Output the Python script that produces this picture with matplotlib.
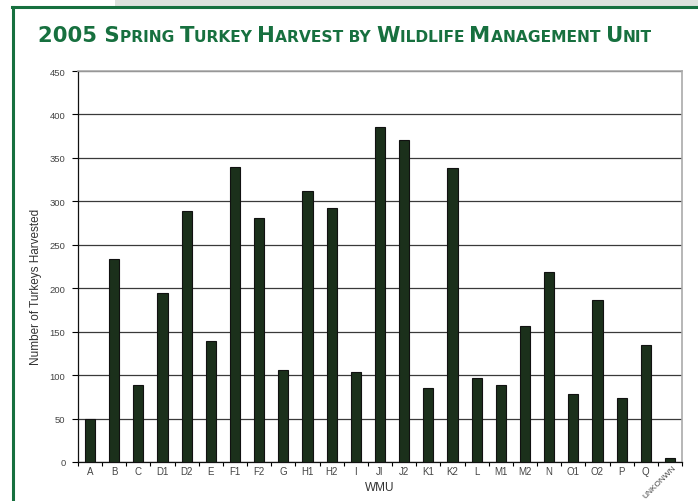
import numpy as np
import matplotlib
matplotlib.use("Agg")
import matplotlib.pyplot as plt
import matplotlib.transforms as mtransforms
from matplotlib.patches import Rectangle
from matplotlib.lines import Line2D

units = ["A", "B", "C", "D1", "D2", "E", "F1", "F2", "G", "H1", "H2", "I", "JI", "J2",
         "K1", "K2", "L", "M1", "M2", "N", "O1", "O2", "P", "Q", "UNKONWN"]
harvest = [50, 234, 89, 195, 289, 139, 339, 281, 106, 312, 292, 104, 386, 371,
           85, 338, 97, 89, 156, 219, 78, 186, 74, 135, 5]
yticks = [0, 50, 100, 150, 200, 250, 300, 350, 400, 450]

green = "#17703f"
plt.rcParams["font.family"] = ["Liberation Sans Narrow", "Liberation Sans", "DejaVu Sans"]

fig = plt.figure(figsize=(6.98, 5.02), dpi=100)

# page decoration: gray band and green frame
fig.patches.append(Rectangle((115 / 698, 1 - 7 / 502), 1, 7 / 502, transform=fig.transFigure,
                             facecolor="#dde2dd", edgecolor="none"))
fig.lines.append(Line2D([12 / 698, 1], [1 - 8 / 502, 1 - 8 / 502], transform=fig.transFigure,
                        color=green, linewidth=2.2))
fig.lines.append(Line2D([13 / 698, 13 / 698], [0, 1 - 8 / 502], transform=fig.transFigure,
                        color=green, linewidth=2.2))

ax = fig.add_axes([78 / 698, 1 - 463 / 502, (682 - 78) / 698, (463 - 72) / 502])
x = np.arange(len(units))
ax.bar(x, harvest, width=0.42, color="#1b301b", edgecolor="#111111", linewidth=0.8, zorder=3)
ax.set_xlim(-0.5, len(units) - 0.5)
ax.set_ylim(0, 450)
ax.set_yticks(yticks)
ax.yaxis.grid(True, color="#3a3a3a", linewidth=0.9, zorder=0)
ax.tick_params(axis="y", direction="out", length=4, width=0.8, labelsize=6.8, labelcolor="#444444", pad=5)

ax.set_xticks(x)
ax.set_xticklabels(units)
ax.set_xticks(np.arange(-0.5, len(units)), minor=True)
ax.tick_params(axis="x", which="major", length=0, labelsize=7, labelcolor="#444444", pad=3)
ax.tick_params(axis="x", which="minor", direction="out", length=3, width=0.8)
lab = ax.get_xticklabels()[-1]
lab.set_rotation(45)
lab.set_ha("right")
lab.set_va("top")
lab.set_fontsize(6)
lab.set_rotation_mode("anchor")
lab.set_transform(lab.get_transform() + mtransforms.ScaledTranslation(3 / 100, 2 / 100, fig.dpi_scale_trans))

for s in ["top", "right"]:
    ax.spines[s].set_color("#aaaaaa")
    ax.spines[s].set_linewidth(1.2)
for s in ["left", "bottom"]:
    ax.spines[s].set_color("#111111")
    ax.spines[s].set_linewidth(0.9)

ax.set_ylabel("Number of Turkeys Harvested", fontsize=8.5, color="#333333")
ax.yaxis.set_label_coords(-0.059, 0.45)
ax.set_xlabel("WMU", fontsize=8.5, color="#333333")
ax.xaxis.set_label_coords(0.5, -0.064)
ax.xaxis.label.set_va("center")

# small-caps title drawn piece by piece
title_parts = [("2005 S", 15.3), ("PRING ", 11.2), ("T", 15.3), ("URKEY ", 11.2), ("H", 15.3), ("ARVEST BY ", 11.2),
               ("W", 15.3), ("ILDLIFE ", 11.2), ("M", 15.3), ("ANAGEMENT ", 11.2), ("U", 15.3), ("NIT", 11.2)]
renderer = fig.canvas.get_renderer()
xpos = 38
for txt, size in title_parts:
    t = fig.text(xpos / 698, 1 - 42 / 502, txt, fontsize=size, fontweight="bold", color=green,
                 family=["DejaVu Sans"], ha="left", va="baseline")
    bb = t.get_window_extent(renderer)
    xpos += bb.width

fig.savefig("out.png", dpi=100)
